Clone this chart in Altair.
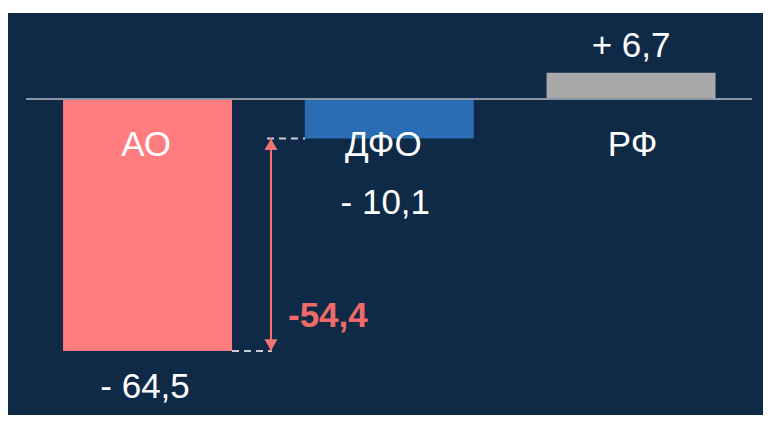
import altair as alt
import pandas as pd

# ---- data ----
categories = ["АО", "ДФО", "РФ"]
values = [-64.5, -10.1, 6.7]
value_labels = ["- 64,5", "- 10,1", "+ 6,7"]
bar_colors = ["#ff7b7e", "#2a6db4", "#a9a9a9"]
diff_label = "-54,4"

df = pd.DataFrame({"cat": categories, "value": values, "label": value_labels, "color": bar_colors})
zero_df = pd.DataFrame({"v": [0]})
ann_df = pd.DataFrame({"top": [values[1]], "bottom": [values[0]], "txt": [diff_label]})

W, H = 755, 402
BG = "#0f2a47"
FONT = "Liberation Sans"
FS = 35

xs = alt.Scale(domain=categories, paddingInner=0.301, paddingOuter=0.212, align=0.537)
ys = alt.Scale(domain=[-80.88, 22.01], nice=False, zero=False)

X = alt.X("cat:N", sort=categories, scale=xs, axis=None)


def Yf(field):
    return alt.Y(field, scale=ys, axis=None)


base = alt.Chart(df)

bars = base.mark_bar().encode(
    x=X,
    y=Yf("value:Q"),
    y2=alt.datum(0),
    color=alt.Color("color:N", scale=None, legend=None),
)

baseline = alt.Chart(zero_df).mark_rule(color="#8a97a5", strokeWidth=2).encode(
    x=alt.value(18), x2=alt.value(744), y=Yf("v:Q")
)

LABEL_Y = -14.6
cat_layers = []
for c, dx in zip(categories, [-1.5, -6, 1.5]):
    cat_layers.append(
        base.transform_filter(alt.datum.cat == c)
        .transform_calculate(ly=str(LABEL_Y))
        .mark_text(font=FONT, fontSize=FS, color="white", baseline="alphabetic", align="center", dx=dx)
        .encode(x=X, y=Yf("ly:Q"), text="cat:N")
    )

val_layers = []
for c, dx, dy in zip(categories, [-2.5, -4, 0], [47, 75.5, -16]):
    val_layers.append(
        base.transform_filter(alt.datum.cat == c)
        .mark_text(font=FONT, fontSize=FS, color="white", baseline="alphabetic", align="center", dx=dx, dy=dy)
        .encode(x=X, y=Yf("value:Q"), text="label:N")
    )

ann = alt.Chart(ann_df)
ARROW_C = "#f07373"
DASH_C = "#c9ced4"

arrow_line = ann.mark_rule(color=ARROW_C, strokeWidth=2).encode(
    x=alt.value(263), y=Yf("top:Q"), y2="bottom:Q"
)
tip_up = ann.mark_point(shape="triangle-up", filled=True, size=170, opacity=1, color=ARROW_C, yOffset=6).encode(
    x=alt.value(263), y=Yf("top:Q")
)
tip_down = ann.mark_point(shape="triangle-down", filled=True, size=170, opacity=1, color=ARROW_C, yOffset=-6).encode(
    x=alt.value(263), y=Yf("bottom:Q")
)
dash_top = ann.mark_rule(color=DASH_C, strokeWidth=2, strokeDash=[7, 5]).encode(
    x=alt.value(259), x2=alt.value(297), y=Yf("top:Q")
)
dash_bot = ann.mark_rule(color=DASH_C, strokeWidth=2, strokeDash=[7, 5]).encode(
    x=alt.value(224), x2=alt.value(264), y=Yf("bottom:Q")
)
diff_text = ann.mark_text(
    font=FONT, fontSize=FS, fontWeight="bold", color="#f06a6a", align="left", baseline="alphabetic", dy=-24
).encode(x=alt.value(280), y=Yf("bottom:Q"), text="txt:N")

chart = (
    alt.layer(
        bars, baseline, dash_top, dash_bot, arrow_line, tip_up, tip_down,
        *cat_layers, *val_layers, diff_text
    )
    .properties(
        width=W,
        height=H,
        padding={"top": 5, "left": 0, "right": 0, "bottom": 0},
        autosize=alt.AutoSizeParams(type="none"),
        background="white",
    )
    .configure_view(fill=BG, strokeWidth=0)
)

chart.save("out.html", embed_options={"renderer": "svg", "actions": False})
